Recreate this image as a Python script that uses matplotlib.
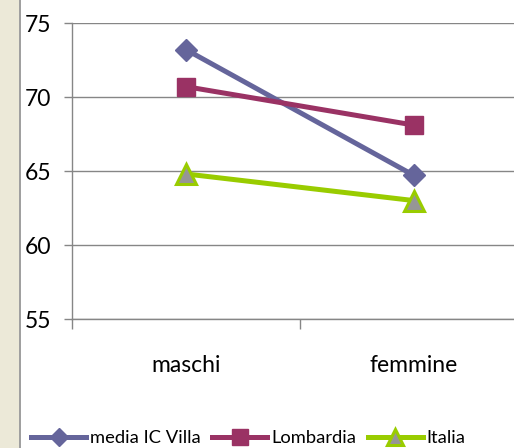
import matplotlib
matplotlib.use("Agg")
import matplotlib.pyplot as plt
from matplotlib.patches import Rectangle
from matplotlib.lines import Line2D

categories = ["maschi", "femmine"]
series_names = ["media IC Villa", "Lombardia", "Italia"]
media_ic_villa = [73.2, 64.7]
lombardia = [70.7, 68.1]
italia = [64.8, 63.0]
yticks = [55, 60, 65, 70, 75]

plt.rcParams['font.family'] = ['Lato', 'DejaVu Sans']

W, H = 514, 448
fig = plt.figure(figsize=(W / 100, H / 100), dpi=100)
fig.patch.set_facecolor("white")

# left beige strip and border line
fig.patches.append(Rectangle((0, 0), 19 / W, 1, transform=fig.transFigure,
                             facecolor="#ECE9D8", edgecolor="none", zorder=0))
fig.patches.append(Rectangle((19 / W, 0), 2 / W, 1, transform=fig.transFigure,
                             facecolor="#A0A0A0", edgecolor="none", zorder=0))

left, right = 72 / W, 528 / W
top, bottom = 1 - 23 / H, 1 - 319 / H
ax = fig.add_axes([left, bottom, right - left, top - bottom])
ax.set_facecolor("none")

x = [0.5, 1.5]
grid_c = "#868686"
ax.set_xlim(0, 2)
ax.set_ylim(55, 75)
ax.set_yticks(yticks)
ax.set_yticklabels([str(v) for v in yticks], fontsize=16.5)
ax.yaxis.grid(True, color=grid_c, lw=1.0)
ax.set_axisbelow(True)
for s in ["top", "right"]:
    ax.spines[s].set_visible(False)
for s in ["left", "bottom"]:
    ax.spines[s].set_color(grid_c)
    ax.spines[s].set_linewidth(1.0)
ax.tick_params(axis="y", length=6, color=grid_c, width=1.0, pad=9)
ax.set_xticks([0, 1, 2])
ax.set_xticklabels([])
ax.tick_params(axis="x", length=7, color=grid_c, width=1.0, direction="out")
ax.set_xticks(x, minor=True)
ax.set_xticklabels(categories, minor=True, fontsize=16.5)
ax.tick_params(axis="x", which="minor", length=0, pad=26)

styles = [
    dict(color="#65659B", marker="D", ms=11, mfc="#65659B", mec="#65659B"),
    dict(color="#9A3264", marker="s", ms=13, mfc="#9A3264", mec="#9A3264"),
    dict(color="#99CC00", marker="^", ms=14, mfc="#969696", mec="#99CC00", mew=2.2),
]
data = [media_ic_villa, lombardia, italia]
for name, vals, st in zip(series_names, data, styles):
    ax.plot(x, vals, lw=3.6, label=name, clip_on=False, zorder=3, **st)

leg_handles = []
for st in styles:
    st2 = dict(st)
    st2["ms"] = st["ms"] * 0.85
    leg_handles.append(Line2D([0], [0], lw=3.6, **st2))

fig.legend(leg_handles, series_names, loc="center left",
           bbox_to_anchor=(31 / W, 1 - 438 / H), ncol=3, frameon=False,
           fontsize=13.2, handlelength=3.0, handletextpad=0.2,
           columnspacing=0.65, borderpad=0, borderaxespad=0)

fig.savefig("out.png", dpi=100)
